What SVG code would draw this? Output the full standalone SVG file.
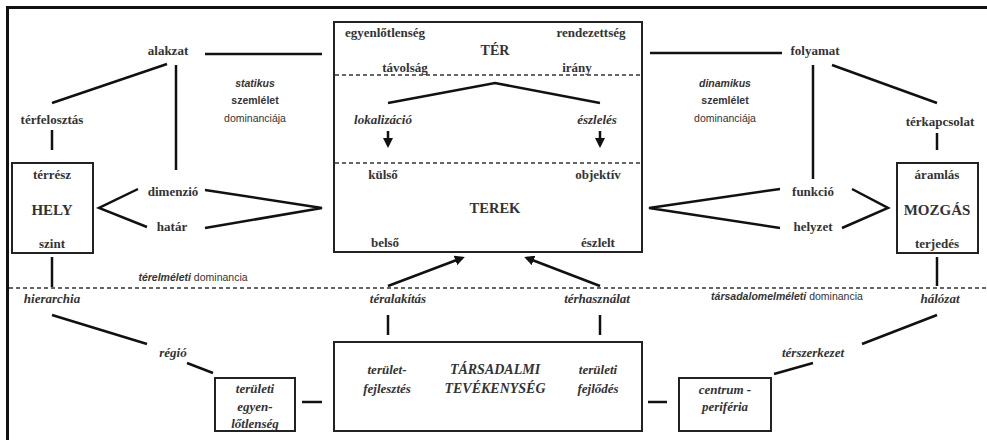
<svg xmlns="http://www.w3.org/2000/svg" width="987" height="440" viewBox="0 0 987 440">
<defs>
<style>
.ln{stroke:#111;stroke-width:2.5;fill:none;stroke-linecap:butt}
.box{stroke:#222;stroke-width:2;fill:none}
.dash{stroke:#333;stroke-width:1.6;stroke-dasharray:4 3;fill:none}
.t{font-family:"Liberation Serif","DejaVu Serif",serif;font-size:13px;font-weight:bold;fill:#333;text-anchor:middle}
.i{font-style:italic}
.b{font-size:15px}
.s{font-family:"Liberation Sans","DejaVu Sans",sans-serif;font-size:10.5px;fill:#333;text-anchor:middle}
.sb{font-weight:bold}
.si{font-style:italic}
</style>
<marker id="ah" viewBox="0 0 10 10" refX="7" refY="5" markerWidth="10" markerHeight="10" markerUnits="userSpaceOnUse" orient="auto"><path d="M0,0 L10,5 L0,10 z" fill="#111"/></marker>
</defs>
<rect width="987" height="440" fill="#fff"/>
<!-- outer frame (top and left only) -->
<path d="M7.5,440 V7.5 H987" stroke="#111" stroke-width="3" fill="none"/>

<g id="connectors">
<line class="dash" x1="9" y1="288" x2="987" y2="288"/>
<!-- alakzat -->
<line class="ln" x1="205" y1="54" x2="322" y2="54"/>
<line class="ln" x1="167" y1="64" x2="52" y2="103"/>
<line class="ln" x1="176" y1="65" x2="176" y2="170"/>
<line class="ln" x1="52" y1="130" x2="52" y2="150"/>
<polyline class="ln" points="138,189 99,208 147,227"/>
<polyline class="ln" points="205,190 322,208 205,228"/>
<line class="ln" x1="52" y1="257" x2="52" y2="287"/>
<line class="ln" x1="52" y1="315" x2="147" y2="344"/>
<line class="ln" x1="187" y1="363" x2="213" y2="373"/>
<line class="ln" x1="302" y1="402" x2="322" y2="402"/>
<!-- folyamat -->
<line class="ln" x1="650" y1="53" x2="782" y2="53"/>
<line class="ln" x1="832" y1="65" x2="937" y2="103"/>
<line class="ln" x1="813" y1="65" x2="813" y2="179"/>
<line class="ln" x1="937" y1="133" x2="937" y2="150"/>
<polyline class="ln" points="780,189 649,208 780,228"/>
<polyline class="ln" points="852,189 888,208 842,228"/>
<line class="ln" x1="937" y1="257" x2="937" y2="286"/>
<line class="ln" x1="937" y1="315" x2="862" y2="344"/>
<line class="ln" x1="813" y1="363" x2="774" y2="374"/>
<line class="ln" x1="648" y1="402" x2="667" y2="402"/>
<!-- central -->
<polyline class="ln" points="388,103 495,83 600,103"/>
<line class="ln" x1="388" y1="131" x2="388" y2="145" marker-end="url(#ah)"/>
<line class="ln" x1="600" y1="131" x2="600" y2="145" marker-end="url(#ah)"/>
<line class="ln" x1="388" y1="286" x2="462" y2="258" marker-end="url(#ah)"/>
<line class="ln" x1="600" y1="286" x2="527" y2="258" marker-end="url(#ah)"/>
<line class="ln" x1="388" y1="315" x2="388" y2="335"/>
<line class="ln" x1="600" y1="315" x2="600" y2="335"/>
</g>

<g id="ter">
<rect class="box" x="334" y="22" width="308" height="230"/>
<line class="dash" x1="335" y1="75" x2="641" y2="75"/>
<line class="dash" x1="335" y1="163" x2="641" y2="163"/>
<text class="t" x="385" y="37">egyenlőtlenség</text>
<text class="t" x="591" y="37">rendezettség</text>
<text class="t" x="495" y="55" style="font-size:14px">TÉR</text>
<text class="t" x="405" y="72">távolság</text>
<text class="t" x="577" y="72">irány</text>
<text class="t i" x="383" y="124">lokalizáció</text>
<text class="t i" x="597" y="124">észlelés</text>
<text class="t" x="383" y="179">külső</text>
<text class="t" x="598" y="179">objektív</text>
<text class="t" x="495" y="213" style="font-size:14.5px">TEREK</text>
<text class="t" x="385" y="247">belső</text>
<text class="t" x="598" y="247">észlelt</text>
</g>

<g id="alakzat"><text class="t" x="168" y="55">alakzat</text></g>
<g id="terfelosztas"><text class="t" x="52" y="124">térfelosztás</text></g>
<g id="statikus">
<text class="s si sb" x="255" y="87">statikus</text>
<text class="s sb" x="255" y="104">szemlélet</text>
<text class="s" x="255" y="122">dominanciája</text>
</g>
<g id="hely">
<rect class="box" x="12" y="163" width="81" height="90"/>
<text class="t" x="52" y="179">térrész</text>
<text class="t b" x="52" y="215">HELY</text>
<text class="t" x="52" y="248">szint</text>
</g>
<g id="dimenzio"><text class="t" x="173" y="196">dimenzió</text></g>
<g id="hatar"><text class="t" x="172" y="231">határ</text></g>
<g id="terelmeleti"><text class="s" x="193" y="281"><tspan class="si sb">térelméleti</tspan> dominancia</text></g>
<g id="hierarchia"><text class="t i" x="52" y="303">hierarchia</text></g>
<g id="regio"><text class="t i" x="173" y="357">régió</text></g>
<g id="teruleti-egyenlotlenseg">
<rect class="box" x="215" y="378" width="80" height="53"/>
<text class="t i" x="255" y="393">területi</text>
<text class="t i" x="255" y="411">egyen-</text>
<text class="t i" x="255" y="428">lőtlenség</text>
</g>

<g id="folyamat"><text class="t" x="815" y="55">folyamat</text></g>
<g id="terkapcsolat"><text class="t" x="940" y="126">térkapcsolat</text></g>
<g id="dinamikus">
<text class="s si sb" x="725" y="87">dinamikus</text>
<text class="s sb" x="725" y="104">szemlélet</text>
<text class="s" x="725" y="122">dominanciája</text>
</g>
<g id="mozgas">
<rect class="box" x="897" y="163" width="81" height="90"/>
<text class="t" x="937" y="179">áramlás</text>
<text class="t b" x="937" y="215">MOZGÁS</text>
<text class="t" x="937" y="248">terjedés</text>
</g>
<g id="funkcio"><text class="t" x="813" y="196">funkció</text></g>
<g id="helyzet"><text class="t" x="813" y="231">helyzet</text></g>
<g id="tarsadalomelmeleti"><text class="s" x="787" y="300"><tspan class="si sb">társadalomelméleti</tspan> dominancia</text></g>
<g id="halozat"><text class="t i" x="940" y="303">hálózat</text></g>
<g id="terszerkezet"><text class="t i" x="813" y="357">térszerkezet</text></g>
<g id="centrum-periferia">
<rect class="box" x="679" y="378" width="92" height="53"/>
<text class="t i" x="725" y="394">centrum -</text>
<text class="t i" x="725" y="411">periféria</text>
</g>

<g id="teralakitas"><text class="t i" x="398" y="303">téralakítás</text></g>
<g id="terhasznalat"><text class="t i" x="597" y="303">térhasználat</text></g>
<g id="tarsadalmi-tevekenyseg">
<rect class="box" x="334" y="342" width="308" height="89"/>
<text class="t i" x="387" y="374">terület-</text>
<text class="t i" x="387" y="393">fejlesztés</text>
<text class="t i" x="495" y="374" style="font-size:14px">TÁRSADALMI</text>
<text class="t i" x="495" y="393" style="font-size:14px">TEVÉKENYSÉG</text>
<text class="t i" x="598" y="374">területi</text>
<text class="t i" x="598" y="393">fejlődés</text>
</g>
</svg>
